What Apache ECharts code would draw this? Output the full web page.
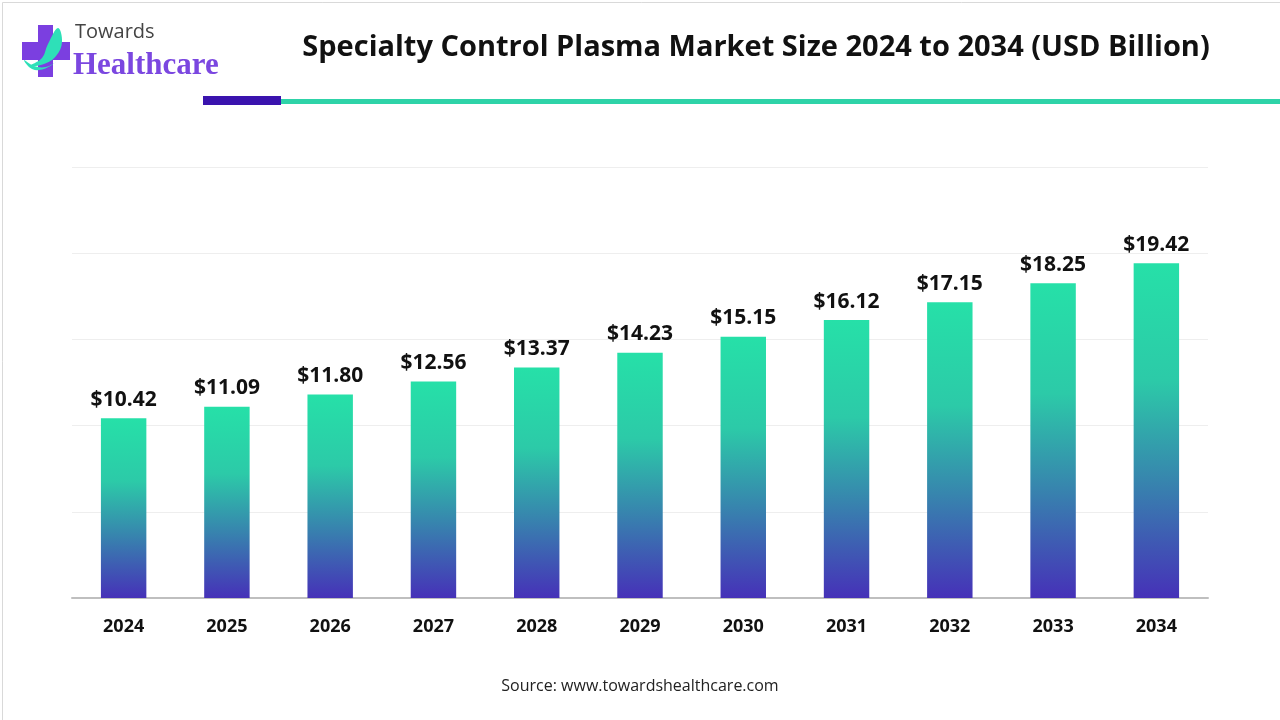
<!DOCTYPE html>
<html>
<head>
<meta charset="utf-8">
<script src="https://cdn.jsdelivr.net/npm/echarts@6/dist/echarts.min.js"></script>
<style>
html,body{margin:0;padding:0;background:#fff;}
#c{width:1280px;height:720px;}
</style>
</head>
<body>
<div id="c"></div>
<script>
const years = ['2024','2025','2026','2027','2028','2029','2030','2031','2032','2033','2034'];
const marketSize = [10.42, 11.09, 11.80, 12.56, 13.37, 14.23, 15.15, 16.12, 17.15, 18.25, 19.42];
const titleText = 'Specialty Control Plasma Market Size 2024 to 2034 (USD Billion)';
const sourceText = 'Source: www.towardshealthcare.com';

const chart = echarts.init(document.getElementById('c'));
const font = '"Open Sans", "Liberation Sans", sans-serif';
chart.setOption({
  backgroundColor: '#ffffff',
  animation: false,
  title: {
    text: titleText,
    left: 751, top: 28, textAlign: 'center',
    textStyle: { fontFamily: font, fontWeight: 'bold', fontSize: 29, color: '#111' }
  },
  grid: { left: 72, right: 72, top: 167, bottom: 122, containLabel: false },
  xAxis: {
    type: 'category', data: years,
    axisLine: { lineStyle: { color: '#bfbfbf', width: 2 } },
    axisTick: { show: false },
    axisLabel: { margin: 20, fontFamily: font, fontWeight: 'bold', fontSize: 18, color: '#111' }
  },
  yAxis: {
    type: 'value', min: 0, max: 25, interval: 5,
    axisLabel: { show: false }, axisLine: { show: false }, axisTick: { show: false },
    splitLine: { lineStyle: { color: '#eeeeee', width: 1 } }
  },
  series: [{
    type: 'bar', data: marketSize, barWidth: '44%',
    itemStyle: {
      color: {
        type: 'linear', x: 0, y: 0, x2: 0, y2: 1,
        colorStops: [
          { offset: 0, color: '#26E0A8' },
          { offset: 0.35, color: '#2CCAA8' },
          { offset: 0.65, color: '#3785AE' },
          { offset: 1, color: '#4631B8' }
        ]
      }
    },
    label: {
      show: true, position: 'top', distance: 8,
      formatter: p => '$' + p.value.toFixed(2),
      fontFamily: font, fontWeight: 'bold', fontSize: 21, color: '#111'
    }
  }],
  graphic: [
    { type: 'rect', left: 0, top: 0, shape: { width: 1279, height: 719 }, style: { fill: 'none', stroke: '#d9d9d9', lineWidth: 1 }, silent: true },
    { type: 'rect', shape: { x: 203, y: 96, width: 78, height: 9 }, style: { fill: '#3A13AE' } },
    { type: 'rect', shape: { x: 281, y: 99, width: 999, height: 5 }, style: { fill: '#2ED3A8' } },
    { type: 'rect', shape: { x: 38, y: 25, width: 15, height: 52 }, style: { fill: '#7B3FE0' } },
    { type: 'rect', shape: { x: 22, y: 42, width: 48, height: 18 }, style: { fill: '#7B3FE0' } },
    { type: 'polygon', shape: { points: [[58, 28], [62, 42], [56, 56], [44, 64], [30, 66], [42, 58], [48, 44]], smooth: 0.4 }, style: { fill: '#2EE0B8' } },
    { type: 'polygon', shape: { points: [[24, 60], [34, 66], [46, 67], [56, 62], [44, 69], [32, 69]], smooth: 0.4 }, style: { fill: '#2EE0B8' } },
    { type: 'text', style: { text: 'Towards', x: 75, y: 22, fill: '#444', font: '20px "Open Sans", sans-serif' } },
    { type: 'text', style: { text: 'Healthcare', x: 73, y: 50, fill: '#7B47E0', font: 'bold 31px "Liberation Serif", serif' } },
    { type: 'text', style: { text: sourceText, x: 640, y: 686, align: 'center', verticalAlign: 'middle', fill: '#222', font: '16px "Open Sans", sans-serif' } }
  ]
});
</script>
</body>
</html>
